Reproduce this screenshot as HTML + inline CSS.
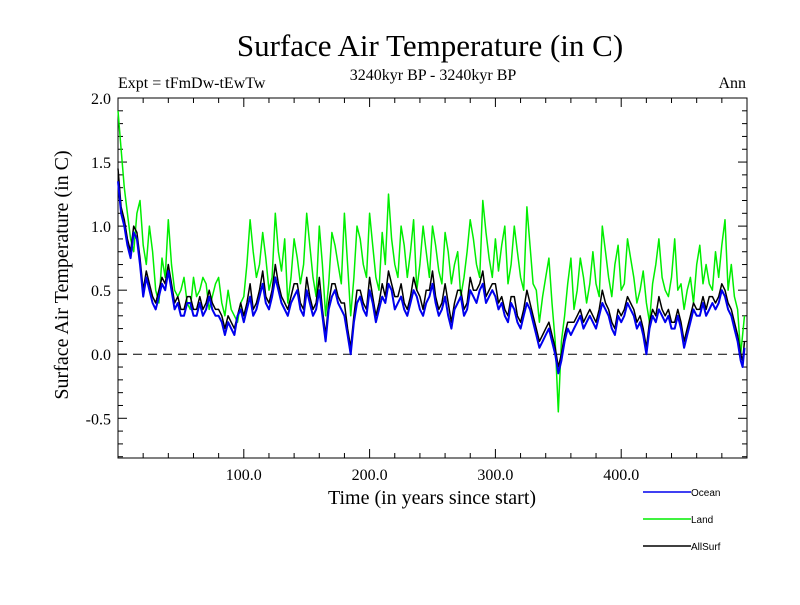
<!DOCTYPE html>
<html><head><meta charset="utf-8"><style>
body{margin:0;background:#fff}
svg text{font-family:"Liberation Serif",serif}
</style></head><body>
<svg id="chart" width="800" height="600" xmlns="http://www.w3.org/2000/svg">
<rect width="800" height="600" fill="#fff"/>
<text x="430" y="56" font-size="31" text-anchor="middle">Surface Air Temperature (in C)</text>
<text x="433" y="80" font-size="16" text-anchor="middle">3240kyr BP - 3240kyr BP</text>
<text x="118" y="88" font-size="16">Expt = tFmDw-tEwTw</text>
<text x="746" y="88" font-size="16" text-anchor="end">Ann</text>
<text transform="translate(68,275) rotate(-90)" font-size="20" text-anchor="middle">Surface Air Temperature (in C)</text>
<text x="432" y="504" font-size="20" text-anchor="middle">Time (in years since start)</text>
<g id="axes"></g>
<g id="series"></g>
<g id="legend"></g>
</svg>
<script>
const years=[0,2.5,5,7.5,10,12.5,15,17.5,20,22.5,25,27.5,30,32.5,35,37.5,40,42.5,45,47.5,50,52.5,55,57.5,60,62.5,65,67.5,70,72.5,75,77.5,80,82.5,85,87.5,90,92.5,95,97.5,100,102.5,105,107.5,110,112.5,115,117.5,120,122.5,125,127.5,130,132.5,135,137.5,140,142.5,145,147.5,150,152.5,155,157.5,160,162.5,165,167.5,170,172.5,175,177.5,180,182.5,185,187.5,190,192.5,195,197.5,200,202.5,205,207.5,210,212.5,215,217.5,220,222.5,225,227.5,230,232.5,235,237.5,240,242.5,245,247.5,250,252.5,255,257.5,260,262.5,265,267.5,270,272.5,275,277.5,280,282.5,285,287.5,290,292.5,295,297.5,300,302.5,305,307.5,310,312.5,315,317.5,320,322.5,325,327.5,330,332.5,335,337.5,340,342.5,345,347.5,350,352.5,355,357.5,360,362.5,365,367.5,370,372.5,375,377.5,380,382.5,385,387.5,390,392.5,395,397.5,400,402.5,405,407.5,410,412.5,415,417.5,420,422.5,425,427.5,430,432.5,435,437.5,440,442.5,445,447.5,450,452.5,455,457.5,460,462.5,465,467.5,470,472.5,475,477.5,480,482.5,485,487.5,490,492.5,495,496.5,498];
const land=[1.9,1.6,1.3,1.1,0.9,0.8,1.1,1.2,0.85,0.7,1.0,0.8,0.5,0.4,0.75,0.6,1.05,0.7,0.5,0.45,0.5,0.6,0.4,0.35,0.6,0.45,0.5,0.6,0.55,0.35,0.45,0.55,0.6,0.4,0.3,0.5,0.35,0.3,0.25,0.4,0.45,0.7,1.05,0.8,0.6,0.7,0.95,0.75,0.5,0.6,1.1,0.8,0.65,0.9,0.4,0.6,0.9,0.75,0.55,0.7,1.1,0.85,0.6,0.45,1.0,0.7,0.3,0.55,0.95,0.85,0.7,0.55,1.1,0.7,0.3,0.6,1.0,0.9,0.7,0.6,1.1,0.85,0.6,0.5,0.95,0.7,1.25,0.9,0.7,0.6,1.0,0.85,0.6,0.8,1.05,0.5,0.7,1.0,0.8,0.6,1.0,0.85,0.65,0.55,0.95,0.8,0.55,0.7,0.8,0.45,0.6,0.8,1.05,0.9,0.7,0.6,1.2,0.95,0.75,0.6,0.9,0.65,0.85,1.0,0.55,0.7,1.0,0.8,0.6,0.5,1.15,0.85,0.55,0.5,0.25,0.45,0.6,0.75,0.4,0.1,-0.45,0.1,0.3,0.55,0.75,0.35,0.5,0.75,0.6,0.4,0.55,0.8,0.55,0.45,1.0,0.8,0.6,0.45,0.7,0.85,0.5,0.55,0.9,0.75,0.6,0.4,0.5,0.65,0.4,0.25,0.55,0.7,0.9,0.6,0.5,0.45,0.6,0.9,0.5,0.55,0.35,0.5,0.6,0.4,0.7,0.85,0.55,0.7,0.55,0.5,0.8,0.6,0.85,1.05,0.5,0.7,0.45,0.35,0.0,0.15,0.3];
const ocean=[1.35,1.1,1.0,0.85,0.75,0.95,0.9,0.7,0.45,0.6,0.5,0.4,0.35,0.45,0.55,0.5,0.65,0.5,0.35,0.4,0.3,0.3,0.4,0.4,0.3,0.3,0.4,0.3,0.35,0.45,0.35,0.3,0.3,0.25,0.15,0.25,0.2,0.15,0.3,0.35,0.25,0.35,0.45,0.3,0.35,0.45,0.55,0.4,0.35,0.45,0.6,0.5,0.4,0.35,0.3,0.4,0.45,0.5,0.35,0.3,0.5,0.4,0.3,0.35,0.5,0.3,0.1,0.35,0.45,0.5,0.4,0.35,0.3,0.15,0.0,0.25,0.4,0.45,0.35,0.3,0.5,0.4,0.25,0.35,0.45,0.4,0.55,0.5,0.35,0.4,0.45,0.35,0.3,0.4,0.5,0.45,0.35,0.3,0.4,0.45,0.55,0.4,0.3,0.35,0.45,0.3,0.2,0.35,0.4,0.45,0.3,0.35,0.5,0.45,0.4,0.5,0.55,0.4,0.45,0.5,0.45,0.35,0.4,0.3,0.25,0.4,0.35,0.25,0.2,0.3,0.4,0.35,0.25,0.15,0.05,0.1,0.15,0.2,0.1,0.0,-0.15,-0.05,0.1,0.2,0.15,0.2,0.25,0.3,0.2,0.25,0.3,0.25,0.2,0.3,0.4,0.35,0.3,0.2,0.15,0.3,0.25,0.3,0.4,0.35,0.3,0.2,0.25,0.15,0.0,0.2,0.3,0.25,0.35,0.3,0.25,0.3,0.2,0.2,0.3,0.2,0.05,0.15,0.25,0.35,0.3,0.3,0.4,0.3,0.35,0.4,0.35,0.4,0.5,0.45,0.35,0.3,0.2,0.1,-0.05,-0.1,0.05];
const allsurf=[1.45,1.15,1.05,0.9,0.8,1.0,0.95,0.75,0.5,0.65,0.55,0.45,0.4,0.5,0.6,0.55,0.7,0.55,0.4,0.45,0.35,0.35,0.45,0.45,0.35,0.35,0.45,0.35,0.4,0.5,0.4,0.35,0.35,0.3,0.2,0.3,0.25,0.2,0.3,0.4,0.3,0.4,0.55,0.35,0.4,0.5,0.65,0.45,0.4,0.5,0.7,0.55,0.45,0.4,0.35,0.45,0.55,0.55,0.4,0.35,0.6,0.45,0.35,0.4,0.6,0.35,0.15,0.4,0.55,0.55,0.45,0.4,0.4,0.2,0.05,0.3,0.5,0.5,0.4,0.35,0.6,0.45,0.3,0.4,0.55,0.45,0.65,0.55,0.45,0.45,0.55,0.4,0.35,0.45,0.6,0.5,0.45,0.35,0.5,0.5,0.65,0.45,0.35,0.4,0.55,0.4,0.25,0.4,0.5,0.5,0.35,0.4,0.6,0.5,0.5,0.55,0.65,0.45,0.5,0.55,0.55,0.4,0.45,0.35,0.3,0.45,0.45,0.3,0.25,0.35,0.5,0.4,0.3,0.2,0.1,0.15,0.2,0.25,0.15,0.05,-0.1,0.0,0.15,0.25,0.25,0.25,0.3,0.35,0.25,0.3,0.35,0.3,0.25,0.35,0.5,0.4,0.35,0.25,0.2,0.35,0.3,0.35,0.45,0.4,0.35,0.25,0.3,0.2,0.05,0.25,0.35,0.3,0.45,0.35,0.3,0.35,0.25,0.25,0.35,0.25,0.1,0.2,0.3,0.4,0.35,0.35,0.45,0.35,0.45,0.45,0.4,0.45,0.55,0.5,0.4,0.35,0.25,0.15,0.0,-0.05,0.1];
const xTicks=[100,200,300,400];
const xTickLabels=["100.0","200.0","300.0","400.0"];
const yTicks=[2.0,1.5,1.0,0.5,0.0,-0.5];
const yTickLabels=["2.0","1.5","1.0","0.5","0.0","-0.5"];
const L=118,R=747,T=98,B=458,XMIN=0,XMAX=500,YMIN=-0.81,YMAX=2.0;
const sx=v=>L+(v-XMIN)/(XMAX-XMIN)*(R-L);
const sy=v=>B-(v-YMIN)/(YMAX-YMIN)*(B-T);
const NS="http://www.w3.org/2000/svg";
function mk(tag,attrs,parent){const e=document.createElementNS(NS,tag);for(const k in attrs)e.setAttribute(k,attrs[k]);parent.appendChild(e);return e;}
const axes=document.getElementById('axes');
const frame=mk('rect',{x:L,y:T,width:R-L,height:B-T,fill:'none',stroke:'#000','stroke-width':1},axes);


const zero=mk('line',{x1:L,x2:R,y1:sy(0),y2:sy(0),stroke:'#000','stroke-dasharray':'9,6','stroke-width':1},axes);


for(let v=20;v<XMAX;v+=20){const major=v%100===0;const len=major?9:5;
 const x=sx(v);
 const t1=mk('line',{x1:x,x2:x,y1:B,y2:B-len,stroke:'#000'},axes);
 
 
 const t2=mk('line',{x1:x,x2:x,y1:T,y2:T+len,stroke:'#000'},axes);
 
 }
xTicks.forEach((v,i)=>{const t=mk('text',{x:sx(v),y:B+22,'font-size':16,'text-anchor':'middle'},axes);t.textContent=xTickLabels[i];
 
 });
for(let k=-8;k<=20;k++){const v=k/10;const major=k%5===0;const len=major?9:5;const y=sy(v);
 const t1=mk('line',{x1:L,x2:L+len,y1:y,y2:y,stroke:'#000'},axes);
 
 
 const t2=mk('line',{x1:R,x2:R-len,y1:y,y2:y,stroke:'#000'},axes);
 
 }
yTicks.forEach((v,i)=>{const t=mk('text',{x:L-7,y:sy(v)+6,'font-size':16,'text-anchor':'end'},axes);t.textContent=yTickLabels[i];
 
 });
const ser=document.getElementById('series');
function line(vals,color,w,name){const d=vals.map((v,i)=>(i?'L':'M')+sx(years[i]).toFixed(1)+','+sy(v).toFixed(1)).join('');
 const p=mk('path',{d:d,fill:'none',stroke:color,'stroke-width':w,'stroke-linejoin':'round'},ser);
 
 }
line(land,'#00ee00',1.5,'land-line');
line(allsurf,'#000',1.5,'allsurf-line');
line(ocean,'#0000ee',2,'ocean-line');
const lg=document.getElementById('legend');
[['Ocean','#0000ee',492],['Land','#00ee00',519],['AllSurf','#000',546]].forEach(([n,c,y])=>{
 const l=mk('line',{x1:643,x2:691,y1:y,y2:y,stroke:c,'stroke-width':1.5},lg);
 
 
 const t=mk('text',{x:691,y:y+4,'font-size':10,style:'font-family:"Liberation Sans",sans-serif'},lg);t.textContent=n;
 
 });
</script>
</body></html>
